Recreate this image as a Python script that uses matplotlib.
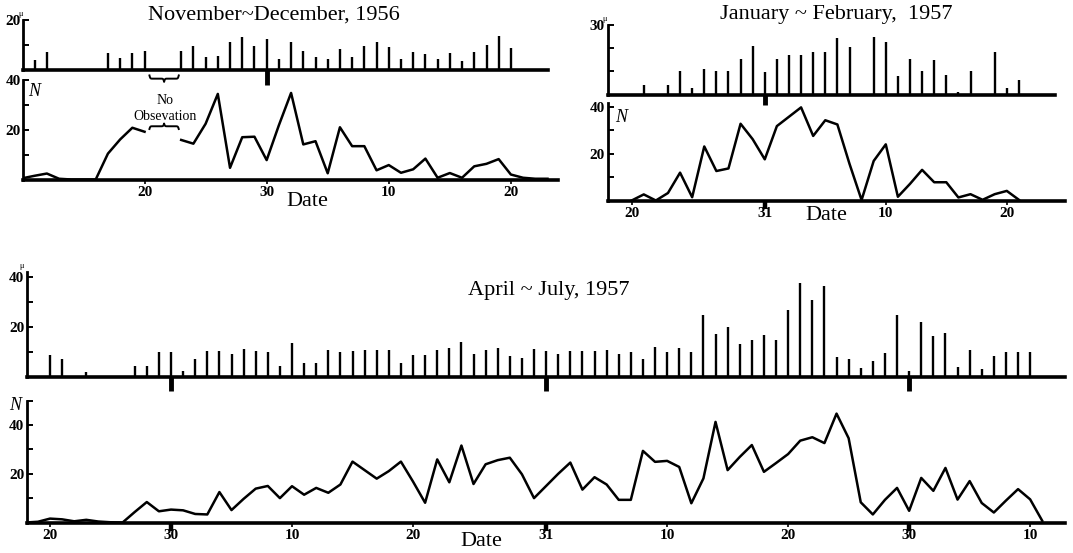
import numpy as np
import matplotlib.pyplot as plt

W, H = 1073, 553
SERIF = 'Liberation Serif'

# ---- November - December 1956 (day counted from Nov 1, Dec d = 30 + d)
nd_stem_days = [11, 12, 17, 18, 19, 20, 23, 24, 25, 26, 27, 28, 29, 30, 31, 32, 33,
                34, 35, 36, 37, 38, 39, 40, 41, 42, 43, 44, 45, 46, 47, 48, 49, 50]
nd_stem_vals = [4.0, 7.0, 6.7, 4.6, 6.5, 7.5, 7.3, 9.3, 5.2, 5.6, 11.3, 13.0, 9.5, 12.5, 4.2, 11.3, 7.3,
                5.1, 4.1, 8.3, 5.2, 9.3, 11.0, 9.2, 4.3, 7.2, 6.2, 4.1, 6.8, 3.4, 7.0, 9.7, 13.6, 8.8]
nd_line_days = list(range(10, 54))
nd_line_vals = [0.5, 1.5, 2.4, 0.3, 0, 0, 0, 10.4, 16.1, 20.8, 19.2, np.nan, np.nan, 15.9,
                14.4, 22.4, 34.4, 4.7, 17.0, 17.2, 7.8, 21.8, 34.8, 14.1, 15.4, 2.5, 21.0,
                13.4, 13.4, 3.7, 5.8, 2.7, 4.1, 8.4, 0.7, 2.6, 0.7, 5.3, 6.3, 8.2, 2.0, 0.7,
                0.3, 0.3]

# ---- January - February 1957 (Jan d = d, Feb d = 31 + d)
jf_stem_days = [21, 23, 24, 25, 26, 27, 28, 29, 30, 31, 32, 33, 34, 35, 36, 37, 38,
                40, 41, 42, 43, 44, 45, 46, 47, 48, 50, 51, 52]
jf_stem_vals = [4.2, 4.1, 10.2, 3.0, 11.1, 10.1, 10.0, 15.2, 21.1, 9.9, 15.4, 17.2, 17.2, 18.2,
                18.2, 24.4, 20.5, 24.8, 22.5, 8.2, 15.2, 10.3, 15.1, 8.4, 1.0, 10.0, 18.3, 3.0, 6.1]
jf_line_days = list(range(20, 53))
jf_line_vals = [0, 2.6, 0, 3.2, 11.9, 1.4, 23.1, 12.6, 13.7, 32.8, 26.2, 17.6, 31.8, 35.8,
                39.8, 27.6, 34.3, 32.5, 15.7, 0.2, 16.9, 24.0, 1.6, 7.1, 13.1, 7.8, 7.8, 1.3,
                2.7, 0.3, 2.7, 4.1, 0.3]

# ---- April - July 1957 (Apr d = d, May d = 30 + d, Jun d = 61 + d, Jul d = 91 + d)
aj_stem_days = [20, 21, 23, 27, 28, 29] + list(range(30, 102))
aj_stem_vals = [8.7, 6.9, 2.0, 4.3, 4.3, 9.7,
                9.7, 2.3, 7.1, 10.3, 10.3, 9.2, 11.1, 10.3, 10.0, 4.4,
                13.3, 5.3, 5.3, 10.5, 9.7, 10.3, 10.5, 10.5, 10.7, 5.3,
                8.5, 8.5, 10.8, 11.3, 14.0, 9.2, 10.6, 11.4, 8.4, 7.4,
                11.0, 10.1, 9.0, 10.1, 10.1, 10.1, 10.7, 8.9, 9.9, 6.9,
                11.9, 9.9, 11.6, 9.9, 24.7, 16.9, 19.9, 12.9, 14.7, 16.7,
                14.7, 26.7, 37.6, 30.7, 36.3, 8.0, 7.2, 3.6, 6.3, 9.5,
                24.7, 2.4, 22.0, 16.4, 17.5, 3.8, 10.8, 3.2, 8.1, 10.0,
                10.0, 10.0]
aj_line_days = list(range(18, 103))
aj_line_vals = [0, 0.3, 1.6, 1.3, 0.5, 1.1, 0.4, 0.1, 0, 4.3, 8.4, 4.6,
                5.3, 5.0, 3.5, 3.3, 12.5, 5.1, 9.7, 13.9, 15.0, 10.0,
                14.9, 11.4, 14.2, 12.2, 15.6, 25.0, 21.5, 18.0, 21.1, 25.0,
                16.8, 8.1, 25.9, 16.5, 31.6, 15.8, 23.9, 25.6, 26.6, 19.8,
                10.0, 15.0, 20.0, 24.6, 13.5, 18.6, 15.6, 9.3, 9.3, 29.4,
                24.9, 25.3, 22.8, 7.9, 18.1, 41.3, 21.5, 26.9, 31.8, 20.8,
                24.4, 28.1, 33.6, 35.0, 32.6, 44.7, 34.6, 8.3, 3.3, 9.3,
                14.2, 4.8, 18.3, 13.0, 22.4, 9.4, 17.0, 8.0, 4.1, 9.0,
                13.7, 9.5, 0.7]


def box(x0, y0, x1, y1):
    # pixel box (from top left) -> figure fraction
    return [x0 / W, 1 - y1 / H, (x1 - x0) / W, (y1 - y0) / H]


def px(x, y):
    return x / W, 1 - y / H


def style(ax, yticks, ylabels):
    for s in ['top', 'right']:
        ax.spines[s].set_visible(False)
    ax.spines['bottom'].set_linewidth(2.6)
    ax.spines['left'].set_linewidth(2.0)
    ax.patch.set_alpha(0)
    ax.set_yticks(yticks)
    ax.set_yticklabels(ylabels, fontfamily=SERIF, fontweight='bold', fontsize=11)
    ax.tick_params(axis='y', direction='in', length=4, width=1.4, pad=2)


def upper(ax, days, vals, xlim, ymax, yticks, ylabels, marks, mark_len):
    ax.vlines(days, 0, vals, colors='black', lw=1.7)
    ax.set_xlim(*xlim)
    ax.set_ylim(0, ymax)
    style(ax, yticks, ylabels)
    ax.set_xticks(marks)
    ax.tick_params(axis='x', direction='out', length=mark_len, width=3.5, labelbottom=False)


def lower(ax, days, vals, xlim, ymax, yticks, ylabels, tdays, tlabels, marks):
    ax.plot(days, vals, color='black', lw=1.8)
    ax.set_xlim(*xlim)
    ax.set_ylim(0, ymax)
    style(ax, yticks, ylabels)
    ax.set_xticks(tdays)
    ax.set_xticklabels(tlabels, fontfamily=SERIF, fontweight='bold', fontsize=11)
    ax.tick_params(axis='x', which='major', direction='out', length=3, width=1.2, pad=2)
    ax.xaxis.remove_overlapping_locs = False
    ax.set_xticks(marks, minor=True)
    ax.tick_params(axis='x', which='minor', direction='out', length=6, width=3.2)


def brace(ax, x0, x1, y0, h):
    t = np.linspace(0, 0.5, 60)
    half = 1 / (1 + np.exp(-70 * t)) + 1 / (1 + np.exp(-70 * (t - 0.5)))
    yy = np.concatenate([half, half[-2::-1]]) - 0.5
    xx = np.linspace(x0, x1, len(yy))
    ax.plot(xx, y0 + yy * h, color='black', lw=1.4, clip_on=False)


fig = plt.figure(figsize=(W / 100, H / 100), dpi=100)

# Nov - Dec 1956
a1u = fig.add_axes(box(23.3, 20, 548.3, 69.5))
upper(a1u, nd_stem_days, nd_stem_vals, (10.07, 53.06), 20, [10, 20], ['', '20'], [30], 11)
a1l = fig.add_axes(box(23.3, 80, 558, 179.5))
lower(a1l, nd_line_days, nd_line_vals, (10.07, 53.86), 40, [10, 20, 30, 40],
      ['', '20', '', '40'], [20, 30, 40, 50], ['20', '30', '10', '20'], [])
brace(a1u, 20.4, 22.8, -2.4, -2.6)
brace(a1l, 20.4, 22.8, 20.3, 2.2)
fig.text(*px(165, 100), 'No', ha='center', va='center', fontfamily=SERIF, fontsize=10)
fig.text(*px(165, 117), 'Obsevation', ha='center', va='center', fontfamily=SERIF, fontsize=10)
fig.text(*px(34, 91), 'N', ha='center', va='center', fontfamily=SERIF, style='italic', fontsize=13)
fig.text(*px(21, 14), 'μ', ha='center', va='center', fontfamily=SERIF, fontsize=6)
fig.text(*px(274, 15), 'November~December, 1956', ha='center', va='center',
         fontfamily=SERIF, fontsize=16)
fig.text(*px(307, 201), 'Date', ha='center', va='center', fontfamily=SERIF, fontsize=16)

# Jan - Feb 1957
a2u = fig.add_axes(box(607.7, 25, 1055, 94.5))
upper(a2u, jf_stem_days, jf_stem_vals, (18.02, 54.98), 30, [10, 20, 30], ['', '', '30'], [31], 7)
a2l = fig.add_axes(box(607.7, 102.7, 1065, 200.5))
lower(a2l, jf_line_days, jf_line_vals, (18.02, 55.81), 41.8, [10, 20, 30, 40],
      ['', '20', '', '40'], [20, 31, 41, 51], ['20', '31', '10', '20'], [31])
fig.text(*px(621, 118), 'N', ha='center', va='center', fontfamily=SERIF, style='italic', fontsize=13)
fig.text(*px(605, 19), 'μ', ha='center', va='center', fontfamily=SERIF, fontsize=6)
fig.text(*px(836, 15), 'January ~ February,  1957', ha='center', va='center',
         fontfamily=SERIF, fontsize=16)
fig.text(*px(826, 215), 'Date', ha='center', va='center', fontfamily=SERIF, fontsize=16)

# Apr - Jul 1957
a3u = fig.add_axes(box(27, 272, 1065, 376.5))
upper(a3u, aj_stem_days, aj_stem_vals, (18.1, 103.88), 42, [10, 20, 30, 40],
      ['', '20', '', '40'], [30, 61, 91], 10)
a3l = fig.add_axes(box(27, 400.7, 1065, 522.5))
lower(a3l, aj_line_days, aj_line_vals, (18.1, 103.88), 50, [10, 20, 30, 40, 50],
      ['', '20', '', '40', ''], [20, 30, 40, 50, 61, 71, 81, 91, 101],
      ['20', '30', '10', '20', '31', '10', '20', '30', '10'], [30, 61, 91])
fig.text(*px(15, 406), 'N', ha='center', va='center', fontfamily=SERIF, style='italic', fontsize=13)
fig.text(*px(22, 266), 'μ', ha='center', va='center', fontfamily=SERIF, fontsize=6)
fig.text(*px(549, 290), 'April ~ July, 1957', ha='center', va='center',
         fontfamily=SERIF, fontsize=16)
fig.text(*px(481, 541), 'Date', ha='center', va='center', fontfamily=SERIF, fontsize=16)

fig.savefig('out.png', dpi=100)
